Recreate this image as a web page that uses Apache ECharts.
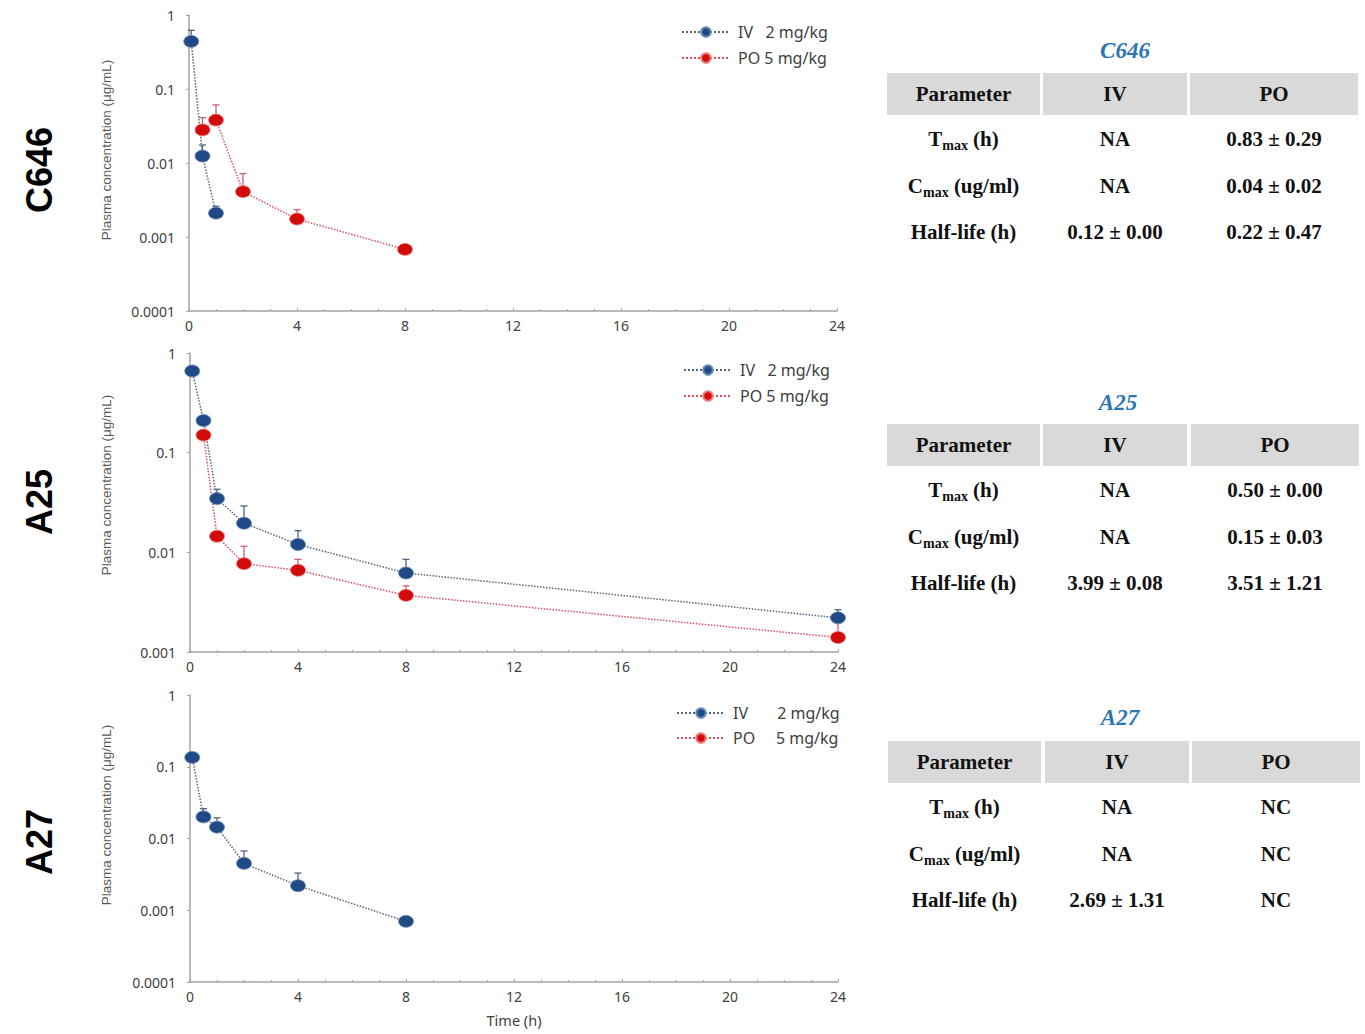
<!DOCTYPE html>
<html><head><meta charset="utf-8">
<script src="https://cdn.jsdelivr.net/npm/echarts@6/dist/echarts.min.js"></script>
<style>html,body{margin:0;padding:0;background:#fff}#c{width:1365px;height:1034px}</style>
</head><body><div id="c"></div>
<script>
// ---------- DATA ----------
const compounds = ['C646', 'A25', 'A27'];
const yTickLabels = ['1', '0.1', '0.01', '0.001', '0.0001'];
const yAxisTitle = 'Plasma concentration (\u03bcg/mL)';
const xAxisTitle = 'Time (h)';

const legendIV = 'IV\u00a0\u00a0\u00a02 mg/kg';
const legendPO = 'PO 5 mg/kg';
const legendIV3 = 'IV\u00a0\u00a0\u00a0\u00a0\u00a0\u00a0\u00a02 mg/kg';
const legendPO3 = 'PO\u00a0\u00a0\u00a0\u00a0\u00a05 mg/kg';

// C646
const c646IVTime = [0.083, 0.5, 1];
const c646IVMean = [0.44, 0.0124, 0.0021];
const c646IVSD = [0.18, 0.0051, 0.0005];
const c646POTime = [0.5, 1, 2, 4, 8];
const c646POMean = [0.028, 0.038, 0.0041, 0.00175, 0.00068];
const c646POSD = [0.013, 0.023, 0.0031, 0.0006, 0.00004];
// A25
const a25IVTime = [0.083, 0.5, 1, 2, 4, 8, 24];
const a25IVMean = [0.66, 0.21, 0.0346, 0.0196, 0.0120, 0.0062, 0.0022];
const a25IVSD = [0.03, 0.02, 0.0083, 0.0096, 0.0045, 0.0023, 0.00046];
const a25POTime = [0.5, 1, 2, 4, 8, 24];
const a25POMean = [0.150, 0.0145, 0.0077, 0.0066, 0.0037, 0.0014];
const a25POSD = [0.01, 0.0015, 0.0038, 0.0019, 0.0009, 0.0007];
// A27
const a27IVTime = [0.083, 0.5, 1, 2, 4, 8];
const a27IVMean = [0.135, 0.020, 0.0144, 0.0045, 0.0022, 0.0007];
const a27IVSD = [0.018, 0.006, 0.005, 0.0022, 0.0011, 0.00004];
const a27POTime = [];
const a27POMean = [];
const a27POSD = [];

// Tables
const tableHeader = ['Parameter', 'IV', 'PO'];
const paramRows = ['{m|T}{s|max}{m| (h)}', '{m|C}{s|max}{m| (ug/ml)}', '{m|Half-life (h)}'];
const tableIV = [
  ['NA', 'NA', '0.12 \u00b1 0.00'],
  ['NA', 'NA', '3.99 \u00b1 0.08'],
  ['NA', 'NA', '2.69 \u00b1 1.31']
];
const tablePO = [
  ['0.83 \u00b1 0.29', '0.04 \u00b1 0.02', '0.22 \u00b1 0.47'],
  ['0.50 \u00b1 0.00', '0.15 \u00b1 0.03', '3.51 \u00b1 1.21'],
  ['NC', 'NC', 'NC']
];

// ---------- BUILD ----------
const IV_COLOR = '#1f4a86';
const PO_COLOR = '#d10a0a';
const IV_LINE = '#56657e';
const PO_LINE = '#d5505e';
const IV_ERR = '#4d6585';
const PO_ERR = '#d0606e';

function pts(t, m) { return t.map((x, i) => [x, m[i]]); }
function errs(t, m, s) { return t.map((x, i) => [x, m[i], m[i] + s[i]]); }

const panels = [
  {grid: {left: 189, top: 15, width: 648, height: 296}, ymin: 0.0001,
   iv: [c646IVTime, c646IVMean, c646IVSD], po: [c646POTime, c646POMean, c646POSD],
   names: [legendIV, legendPO], legend: {left: 681, top: 24, itemGap: 10}, xname: ''},
  {grid: {left: 190, top: 353, width: 648, height: 299}, ymin: 0.001,
   iv: [a25IVTime, a25IVMean, a25IVSD], po: [a25POTime, a25POMean, a25POSD],
   names: [legendIV, legendPO], legend: {left: 683, top: 362, itemGap: 10}, xname: ''},
  {grid: {left: 190, top: 695, width: 648, height: 287}, ymin: 0.0001,
   iv: [a27IVTime, a27IVMean, a27IVSD], po: [a27POTime, a27POMean, a27POSD],
   names: [legendIV3, legendPO3], legend: {left: 676, top: 705, itemGap: 9}, xname: xAxisTitle}
];

const grids = [], xAxes = [], yAxes = [], series = [], legends = [], graphics = [];
const AX = '#a3a3a3';

function errRender(color) {
  return function (params, api) {
    const p = api.coord([api.value(0), api.value(1)]);
    const q = api.coord([api.value(0), api.value(2)]);
    return {type: 'group', children: [
      {type: 'line', shape: {x1: p[0], y1: p[1], x2: q[0], y2: q[1]}, style: {stroke: color, lineWidth: 1.3}},
      {type: 'line', shape: {x1: q[0] - 3.5, y1: q[1], x2: q[0] + 3.5, y2: q[1]}, style: {stroke: color, lineWidth: 1.3}}
    ]};
  };
}

panels.forEach((p, i) => {
  grids.push(p.grid);
  xAxes.push({
    gridIndex: i, type: 'value', min: 0, max: 24, interval: 4,
    name: p.xname, nameLocation: 'middle', nameGap: 30,
    nameTextStyle: {fontFamily: 'Noto Sans', fontSize: 14.5, color: '#404040'},
    axisLine: {lineStyle: {color: AX, width: 1.5}},
    axisTick: {show: true, inside: true, length: 3, lineStyle: {color: AX}},
    minorTick: {show: true, splitNumber: 4, length: 2, lineStyle: {color: AX}},
    axisLabel: {fontFamily: 'Noto Sans', fontSize: 14, color: '#404040', margin: 7},
    splitLine: {show: false}
  });
  yAxes.push({
    gridIndex: i, type: 'log', logBase: 10, min: p.ymin, max: 1,
    axisLine: {show: true, lineStyle: {color: AX, width: 1.5}},
    axisTick: {show: true, length: 3, lineStyle: {color: AX}},
    axisLabel: {fontFamily: 'Noto Sans', fontSize: 14, color: '#404040', margin: 14,
      formatter: v => yTickLabels[Math.round(-Math.log10(v))]},
    splitLine: {show: false}
  });
  series.push({type: 'custom', xAxisIndex: i, yAxisIndex: i, z: 1, silent: true,
    renderItem: errRender(IV_ERR), encode: {x: 0, y: 1}, data: errs(p.iv[0], p.iv[1], p.iv[2])});
  series.push({type: 'custom', xAxisIndex: i, yAxisIndex: i, z: 1, silent: true,
    renderItem: errRender(PO_ERR), encode: {x: 0, y: 1}, data: errs(p.po[0], p.po[1], p.po[2])});
  series.push({type: 'line', name: p.names[0], xAxisIndex: i, yAxisIndex: i, z: 3,
    symbol: 'circle', symbolSize: [15, 12], showAllSymbol: true,
    itemStyle: {color: IV_COLOR, borderColor: '#6d8ab5', borderWidth: 0.8},
    lineStyle: {color: IV_LINE, width: 1.5, type: 'dotted'},
    data: pts(p.iv[0], p.iv[1])});
  series.push({type: 'line', name: p.names[1], xAxisIndex: i, yAxisIndex: i, z: 3,
    symbol: 'circle', symbolSize: [15, 12], showAllSymbol: true,
    itemStyle: {color: PO_COLOR, borderColor: '#ef7b7b', borderWidth: 0.8},
    lineStyle: {color: PO_LINE, width: 1.5, type: 'dotted'},
    data: pts(p.po[0], p.po[1])});
  legends.push({
    data: p.names, orient: 'vertical', left: p.legend.left, top: p.legend.top, padding: 0,
    itemGap: p.legend.itemGap, itemWidth: 48, itemHeight: 12, selectedMode: false,
    textStyle: {fontFamily: 'Noto Sans', fontSize: 16, color: '#404040', lineHeight: 16, padding: [0, 0, 0, 3]}
  });
  graphics.push({type: 'text', x: 106, y: [150, 485, 815][i], rotation: Math.PI / 2,
    style: {text: yAxisTitle, fontFamily: 'Liberation Sans', fontSize: 13.5, fill: '#595959',
      align: 'center', verticalAlign: 'middle'}});
  graphics.push({type: 'text', x: 39, y: [170, 502, 842][i], rotation: Math.PI / 2,
    style: {text: compounds[i], fontFamily: 'Liberation Sans', fontWeight: 'bold', fontSize: 36,
      fill: '#000', align: 'center', verticalAlign: 'middle'}});
});

// Tables
const tLayout = [
  {titleX: 1125, titleY: 50, top: 73, colX: [887, 1043, 1190]},
  {titleX: 1118, titleY: 402, top: 424, colX: [887, 1043, 1191]},
  {titleX: 1120, titleY: 717, top: 741, colX: [888, 1045, 1192]}
];
const colW = [153, 144, 168];
const rowOff = [66, 113, 159];
const serifBold = {fontFamily: 'Liberation Serif', fontWeight: 'bold', fontSize: 21, fill: '#111'};
tLayout.forEach((L, k) => {
  graphics.push({type: 'text', x: L.titleX, y: L.titleY,
    style: {text: compounds[k], fontFamily: 'Liberation Serif', fontWeight: 'bold', fontStyle: 'italic',
      fontSize: 23, fill: '#2e75b6', align: 'center', verticalAlign: 'middle'}});
  for (let c = 0; c < 3; c++) {
    graphics.push({type: 'rect', shape: {x: L.colX[c], y: L.top, width: colW[c], height: 42},
      style: {fill: '#d9d9d9'}});
    const cx = L.colX[c] + colW[c] / 2;
    graphics.push({type: 'text', x: cx, y: L.top + 21,
      style: Object.assign({text: tableHeader[c], align: 'center', verticalAlign: 'middle'}, serifBold)});
  }
  for (let r = 0; r < 3; r++) {
    const y = L.top + rowOff[r];
    const cx = c => L.colX[c] + colW[c] / 2;
    graphics.push({type: 'text', x: cx(0), y: y,
      style: {text: paramRows[r], align: 'center', verticalAlign: 'middle',
        rich: {
          m: {fontFamily: 'Liberation Serif', fontWeight: 'bold', fontSize: 21, fill: '#111', lineHeight: 26},
          s: {fontFamily: 'Liberation Serif', fontWeight: 'bold', fontSize: 14, fill: '#111', lineHeight: 12, verticalAlign: 'bottom'}
        }}});
    graphics.push({type: 'text', x: cx(1), y: y,
      style: Object.assign({text: tableIV[k][r], align: 'center', verticalAlign: 'middle'}, serifBold)});
    graphics.push({type: 'text', x: cx(2), y: y,
      style: Object.assign({text: tablePO[k][r], align: 'center', verticalAlign: 'middle'}, serifBold)});
  }
});

const chart = echarts.init(document.getElementById('c'), null, {renderer: 'svg', width: 1365, height: 1034});
chart.setOption({
  animation: false,
  backgroundColor: '#fff',
  grid: grids, xAxis: xAxes, yAxis: yAxes, series: series, legend: legends,
  graphic: {elements: graphics}
});
</script></body></html>
